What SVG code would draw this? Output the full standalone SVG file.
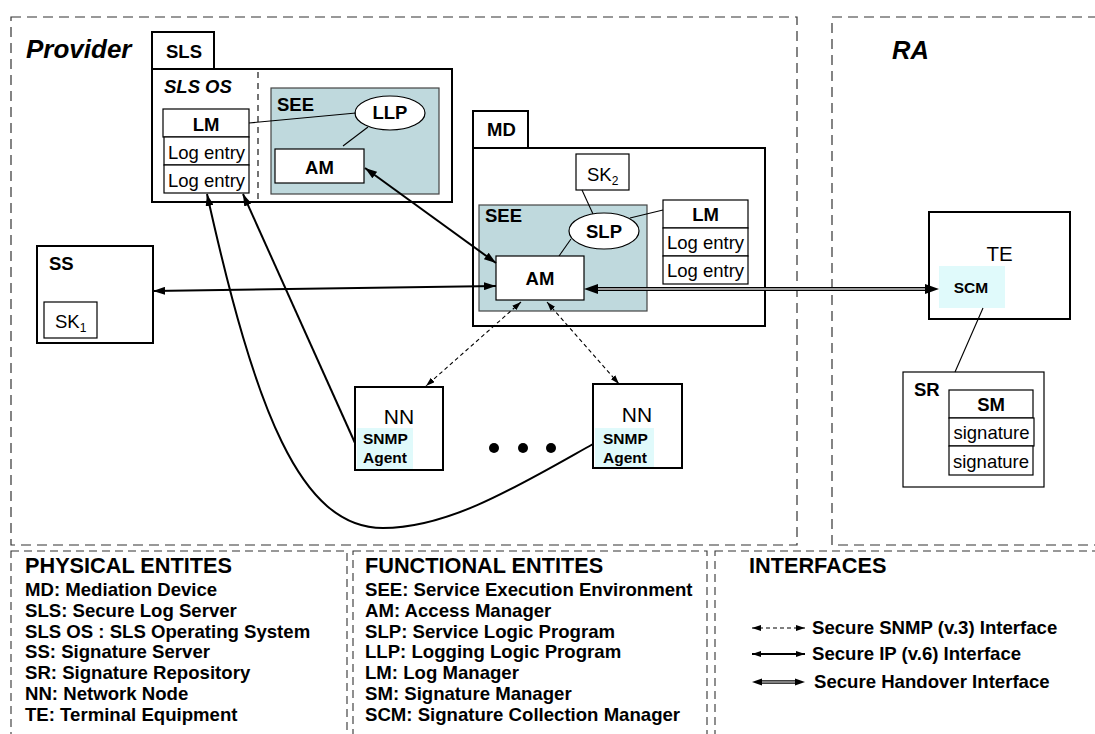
<svg xmlns="http://www.w3.org/2000/svg" width="1095" height="734" viewBox="0 0 1095 734">
  <defs>
    <style>
      .region { fill: none; stroke: #333; stroke-width: 1.2; stroke-dasharray: 10 6; }
      .legendbox { fill: none; stroke: #333; stroke-width: 1.1; stroke-dasharray: 8 5; }
      .box2 { fill: #fff; stroke: #000; stroke-width: 2; }
      .box1 { fill: #fff; stroke: #000; stroke-width: 1.2; }
      .see { fill: #BFD9DD; stroke: #444; stroke-width: 1.2; }
      .agent { fill: #E0FAFB; stroke: none; }
      .ell { fill: #fff; stroke: #000; stroke-width: 1.2; }
      .thin { stroke: #000; stroke-width: 1.1; fill: none; }
      .ip { stroke: #000; stroke-width: 2; fill: none; }
      .snmp { stroke: #000; stroke-width: 1.1; fill: none; stroke-dasharray: 4 3; }
      text { font-family: "Liberation Sans", Arial, Helvetica, sans-serif; fill: #000; }
      .b { font-weight: bold; }
      .bi { font-weight: bold; font-style: italic; }
      .c { text-anchor: middle; }
      .t18 { font-size: 18.5px; }
      .t15 { font-size: 15.5px; }
      .t20 { font-size: 20.5px; }
      .leg { font-size: 18.6px; font-weight: bold; }
      .legh { font-size: 21.7px; font-weight: bold; }
    </style>
    <marker id="ah" viewBox="0 0 12 8" refX="12" refY="4" markerWidth="12" markerHeight="8" markerUnits="userSpaceOnUse" orient="auto-start-reverse">
      <path d="M0,0 L12,4 L0,8 Z" fill="#000"/>
    </marker>
    <marker id="ahs" viewBox="0 0 9 6" refX="9" refY="3" markerWidth="9" markerHeight="6" markerUnits="userSpaceOnUse" orient="auto-start-reverse">
      <path d="M0,0 L9,3 L0,6 Z" fill="#000"/>
    </marker>
  </defs>

  <!-- domain regions -->
  <g id="regions">
    <rect class="region" x="11" y="17" width="786" height="528"/>
    <rect class="region" x="832" y="17" width="280" height="528"/>
    <text class="bi" x="26" y="58" font-size="26">Provider</text>
    <text class="bi" x="892" y="59" font-size="25.5">RA</text>
  </g>

  <!-- Secure Log Server -->
  <g id="sls">
    <rect class="box2" x="152" y="32" width="62" height="37"/>
    <text class="b t18" x="166" y="58">SLS</text>
    <rect class="box2" x="152" y="69" width="300" height="133"/>
    <text class="bi t18" x="164" y="93">SLS OS</text>
    <line x1="258" y1="72" x2="258" y2="200" stroke="#000" stroke-width="1.1" stroke-dasharray="6 5"/>
    <g id="sls-lm">
      <rect class="box1" x="163" y="109" width="86" height="28"/>
      <text class="b t18 c" x="206" y="131">LM</text>
      <rect class="box1" x="164" y="137" width="85" height="28"/>
      <text class="t18 c" x="206.5" y="159">Log entry</text>
      <rect class="box1" x="164" y="165" width="85" height="28"/>
      <text class="t18 c" x="206.5" y="187">Log entry</text>
    </g>
    <g id="sls-see">
      <rect class="see" x="271" y="88" width="168" height="106"/>
      <text class="b t18" x="277" y="111">SEE</text>
    </g>
  </g>
  <g id="sls-am">
    <rect class="box1" x="275" y="149" width="89" height="34"/>
    <text class="b t18 c" x="319.5" y="174">AM</text>
  </g>
  <g id="llp">
    <line class="thin" x1="343" y1="146" x2="368" y2="127"/>
    <ellipse class="ell" cx="390" cy="113" rx="35" ry="17"/>
    <text class="b t18 c" x="390" y="119">LLP</text>
  </g>

  <!-- Mediation Device -->
  <g id="md">
    <rect class="box2" x="473" y="111" width="55" height="37"/>
    <text class="b t18" x="487" y="136">MD</text>
    <rect class="box2" x="473" y="148" width="292" height="178"/>
    <g id="sk2">
      <rect class="box1" x="576" y="154" width="53" height="36"/>
      <text class="t18" x="587" y="181">SK<tspan font-size="12" dy="4">2</tspan></text>
    </g>
    <g id="md-see">
      <rect class="see" x="479" y="205" width="168" height="106"/>
      <text class="b t18" x="485" y="222">SEE</text>
    </g>
    <g id="md-lm">
      <rect class="box1" x="663" y="200" width="85" height="28"/>
      <text class="b t18 c" x="705.5" y="221">LM</text>
      <rect class="box1" x="663" y="228" width="85" height="28"/>
      <text class="t18 c" x="705.5" y="249">Log entry</text>
      <rect class="box1" x="663" y="256" width="85" height="28"/>
      <text class="t18 c" x="705.5" y="277">Log entry</text>
    </g>
  </g>
  <g id="slp">
    <line class="thin" x1="582" y1="190" x2="593" y2="214"/>
    <line class="thin" x1="630" y1="218" x2="663" y2="210"/>
    <line class="thin" x1="571" y1="239" x2="559" y2="256"/>
    <ellipse class="ell" cx="604" cy="231" rx="35" ry="18"/>
    <text class="b t18 c" x="604" y="238">SLP</text>
  </g>
  <g id="md-am">
    <rect class="box1" x="496" y="256" width="88" height="44"/>
    <text class="b t18 c" x="540" y="285">AM</text>
  </g>

  <!-- Signature Server -->
  <g id="ss">
    <rect class="box2" x="37" y="246" width="116" height="97" stroke-width="1.6"/>
    <text class="b t18" x="49" y="270">SS</text>
    <rect class="box1" x="44" y="302" width="53" height="36"/>
    <text class="t18" x="55" y="328">SK<tspan font-size="12" dy="4">1</tspan></text>
  </g>

  <!-- Terminal Equipment -->
  <g id="te">
    <rect class="box2" x="929" y="212" width="141" height="107"/>
    <text class="t20 c" x="999.5" y="261">TE</text>
    <rect class="agent" x="939" y="266" width="66" height="42"/>
    <text class="b t15 c" x="971" y="293">SCM</text>
  </g>

  <!-- Signature Repository -->
  <g id="sr">
    <rect class="box1" x="903" y="372" width="141" height="115"/>
    <text class="b t18" x="914" y="396">SR</text>
    <rect class="box1" x="949" y="390" width="84" height="28"/>
    <text class="b t18 c" x="991" y="411">SM</text>
    <rect class="box1" x="949" y="418" width="85" height="28"/>
    <text class="t18 c" x="991.5" y="439">signature</text>
    <rect class="box1" x="949" y="446" width="84" height="29"/>
    <text class="t18 c" x="991" y="468">signature</text>
  </g>

  <!-- Network Nodes -->
  <g id="nn1">
    <rect class="box2" x="355" y="387" width="88" height="83"/>
    <rect class="agent" x="357" y="428" width="56" height="41"/>
    <text class="c" x="399" y="424" font-size="21">NN</text>
    <text class="b t15" x="363" y="444">SNMP</text>
    <text class="b t15" x="363" y="463">Agent</text>
  </g>
  <g id="nn2">
    <rect class="box2" x="593" y="384" width="89" height="84"/>
    <rect class="agent" x="595" y="428" width="59" height="39"/>
    <text class="c" x="637" y="422" font-size="21">NN</text>
    <text class="b t15" x="603" y="444">SNMP</text>
    <text class="b t15" x="603" y="463">Agent</text>
  </g>
  <g id="ellipsis">
    <circle cx="494" cy="448" r="5"/>
    <circle cx="523" cy="448" r="5"/>
    <circle cx="551" cy="448" r="5"/>
  </g>

  <!-- interfaces between nodes -->
  <g id="connectors">
    <line class="ip" x1="153" y1="291" x2="496" y2="286" marker-start="url(#ah)" marker-end="url(#ah)"/>
    <line class="ip" x1="365" y1="168" x2="496" y2="263" marker-start="url(#ah)" marker-end="url(#ah)"/>
    <line class="ip" x1="355" y1="443" x2="243" y2="194" marker-end="url(#ah)"/>
    <path class="ip" d="M593,444 C520,485 450,528 383,528 C300,528 255,410 207,194" marker-end="url(#ah)"/>
    <line class="snmp" x1="521" y1="302" x2="426" y2="386" marker-start="url(#ahs)" marker-end="url(#ahs)"/>
    <line class="snmp" x1="547" y1="302" x2="619" y2="384" marker-start="url(#ahs)" marker-end="url(#ahs)"/>
    <!-- handover: double line with heads -->
    <line x1="596" y1="289" x2="926" y2="289" stroke="#000" stroke-width="4.2"/>
    <line x1="596" y1="289" x2="926" y2="289" stroke="#cfcfcf" stroke-width="1.4"/>
    <path d="M584,289 L598,284 L598,294 Z" fill="#000"/>
    <path d="M939,289 L925,284 L925,294 Z" fill="#000"/>
    <line class="thin" x1="983" y1="308" x2="955" y2="372"/>
    <line class="thin" x1="249" y1="123" x2="356" y2="113"/>
  </g>

  <!-- legend -->
  <g id="legend-physical">
    <rect class="legendbox" x="11" y="551" width="336" height="220"/>
    <text class="legh" x="25" y="573">PHYSICAL ENTITES</text>
    <text class="leg" x="25" y="596">MD: Mediation Device</text>
    <text class="leg" x="25" y="617">SLS: Secure Log Server</text>
    <text class="leg" x="25" y="638">SLS OS : SLS Operating System</text>
    <text class="leg" x="25" y="658">SS: Signature Server</text>
    <text class="leg" x="25" y="679">SR: Signature Repository</text>
    <text class="leg" x="25" y="700">NN: Network Node</text>
    <text class="leg" x="25" y="721">TE: Terminal Equipment</text>
  </g>
  <g id="legend-functional">
    <rect class="legendbox" x="353" y="551" width="354" height="220"/>
    <text class="legh" x="365" y="573">FUNCTIONAL ENTITES</text>
    <text class="leg" x="365" y="596">SEE: Service Execution Environment</text>
    <text class="leg" x="365" y="617">AM: Access Manager</text>
    <text class="leg" x="365" y="638">SLP: Service Logic Program</text>
    <text class="leg" x="365" y="658">LLP: Logging Logic Program</text>
    <text class="leg" x="365" y="679">LM: Log Manager</text>
    <text class="leg" x="365" y="700">SM: Signature Manager</text>
    <text class="leg" x="365" y="721">SCM: Signature Collection Manager</text>
  </g>
  <g id="legend-interfaces">
    <rect class="legendbox" x="715" y="551" width="400" height="220"/>
    <text class="legh" x="749" y="573">INTERFACES</text>
    <line class="snmp" x1="752" y1="628" x2="805" y2="628" stroke-width="1.3" marker-start="url(#ahs)" marker-end="url(#ahs)"/>
    <text class="leg" x="812" y="634">Secure SNMP (v.3) Interface</text>
    <line class="ip" x1="752" y1="654" x2="805" y2="654" stroke-width="1.6" marker-start="url(#ahs)" marker-end="url(#ahs)"/>
    <text class="leg" x="812" y="660">Secure IP (v.6) Interface</text>
    <line x1="760" y1="682" x2="797" y2="682" stroke="#000" stroke-width="3.6"/>
    <line x1="760" y1="682" x2="797" y2="682" stroke="#fff" stroke-width="1.2"/>
    <path d="M752,682 L762,678.5 L762,685.5 Z" fill="#000"/>
    <path d="M805,682 L795,678.5 L795,685.5 Z" fill="#000"/>
    <text class="leg" x="814" y="688">Secure Handover Interface</text>
  </g>
</svg>
